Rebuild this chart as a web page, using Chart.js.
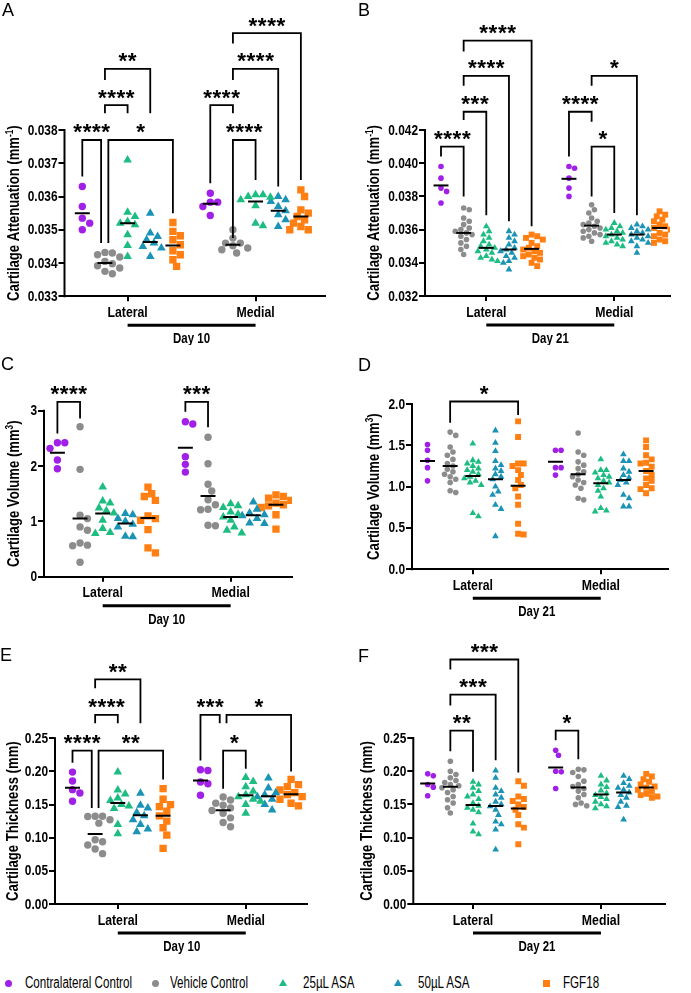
<!DOCTYPE html>
<html lang="en">
<head>
<meta charset="UTF-8" />
<meta name="viewport" content="width=device-width, initial-scale=1.0" />
<title>Cartilage attenuation, volume and thickness</title>
<script src="https://cdn.jsdelivr.net/npm/chart.js"></script>
<style>
  html, body { margin: 0; padding: 0; background: #fff; }
  #fig { position: relative; width: 691px; height: 993px; overflow: hidden; background: #fff; }
  #fig canvas { position: absolute; }
  .tag { position: absolute; font-size: 18px; line-height: 18px; color: #000; }
  .mark { position: absolute; }
  .keytext { position: absolute; font-size: 16px; line-height: 16px; color: #000; white-space: nowrap; transform-origin: 0 50%; }
</style>
</head>
<body>
<div id="fig"></div>
<script>
  const groups = ['Contralateral Control', 'Vehicle Control', '25µL ASA', '50µL ASA', 'FGF18'];
  const sides = ['Lateral', 'Medial'];
  const colors = ['#a020e8', '#8c8c8c', '#1dbd82', '#1a93b6', '#ff7f12'];
  const shapes = ['circle', 'circle', 'triangle', 'triangle', 'rect'];

  // A: attenuation, day 10 (one list per group, lines = group centre bars)
  const attenD10Lateral = [
    [0.0363, 0.0357, 0.03535, 0.0352, 0.0350],
    [0.03432, 0.0343, 0.03425, 0.03418, 0.03405, 0.03398, 0.03392, 0.03385, 0.03375, 0.03368],
    [0.0371, 0.03553, 0.0354, 0.03525, 0.0352, 0.03515, 0.03485, 0.03453, 0.0342],
    [0.0355, 0.0349, 0.0348, 0.0347, 0.0346, 0.0345, 0.03445, 0.0342],
    [0.03522, 0.03495, 0.03482, 0.0347, 0.03455, 0.03437, 0.03425, 0.0341, 0.0339]
  ];
  const attenD10Medial = [
    [0.0361, 0.03583, 0.03583, 0.0357, 0.03543],
    [0.035, 0.03475, 0.0346, 0.0346, 0.03452, 0.03445, 0.0344, 0.0343],
    [0.03605, 0.03605, 0.036, 0.03598, 0.0359, 0.03572, 0.0352, 0.03512],
    [0.036, 0.0359, 0.03585, 0.0357, 0.03557, 0.03545, 0.0353, 0.0351],
    [0.0362, 0.036, 0.0356, 0.0355, 0.0354, 0.0353, 0.0352, 0.0351, 0.035, 0.035]
  ];
  const attenD10Lines = [0.0355, 0.034, 0.0352, 0.03463, 0.03453, 0.03578, 0.03455, 0.03585, 0.03557, 0.0354];
  // [group1, group2, top, end1, end2, stars, shift1, shift2]
  const attenD10Brackets = [
    [0, 1, 0.0377, 0.0366, 0.0346, '****', 0, -0.17],
    [1, 4, 0.0377, 0.0346, 0.0355, '*', 0.15, 0],
    [1, 2, 0.03875, 0.0385, 0.0385, '****'],
    [1, 3, 0.03984, 0.0395, 0.0385, '**'],
    [5, 6, 0.03875, 0.0364, 0.0385, '****'],
    [6, 7, 0.0377, 0.03475, 0.0365, '****'],
    [6, 8, 0.03984, 0.0395, 0.0363, '****'],
    [6, 9, 0.04091, 0.0406, 0.0365, '****']
  ];

  // B: attenuation, day 21
  const attenD21Lateral = [
    [0.0398, 0.0391, 0.0385, 0.0383, 0.0376],
    [0.0373, 0.0372, 0.0367, 0.0365, 0.0363, 0.0361, 0.036, 0.0359, 0.0358, 0.0357, 0.0356, 0.0354, 0.0352, 0.035, 0.0348, 0.0345],
    [0.0362, 0.0359, 0.0357, 0.0355, 0.0353, 0.0351, 0.035, 0.0349, 0.0348, 0.0347, 0.0346, 0.0344, 0.0343, 0.0342, 0.0341],
    [0.0359, 0.0357, 0.0355, 0.0353, 0.0351, 0.0349, 0.0348, 0.0347, 0.0346, 0.0344, 0.0343, 0.0341, 0.034, 0.0336],
    [0.0357, 0.0356, 0.0355, 0.0354, 0.0352, 0.035, 0.0349, 0.0348, 0.0347, 0.0346, 0.0345, 0.0344, 0.0343, 0.0342, 0.034, 0.0338]
  ];
  const attenD21Medial = [
    [0.0398, 0.0397, 0.0391, 0.0385, 0.038],
    [0.0375, 0.0372, 0.037, 0.0367, 0.0365, 0.0364, 0.0363, 0.0362, 0.0361, 0.036, 0.0359, 0.0358, 0.0357, 0.0356, 0.0355, 0.0353],
    [0.0364, 0.0362, 0.0361, 0.036, 0.0359, 0.0358, 0.0357, 0.0356, 0.0355, 0.0354, 0.0353, 0.0352, 0.0351, 0.035],
    [0.0363, 0.0362, 0.0361, 0.036, 0.0359, 0.0358, 0.0357, 0.0356, 0.0355, 0.0354, 0.0353, 0.0352, 0.035, 0.0346],
    [0.0371, 0.0369, 0.0368, 0.0366, 0.0365, 0.0363, 0.0362, 0.0361, 0.036, 0.0358, 0.0357, 0.0356, 0.0354, 0.0353, 0.0352]
  ];
  const attenD21Lines = [0.03866, 0.0358, 0.0349, 0.0348, 0.03484, 0.03906, 0.03624, 0.0357, 0.0357, 0.0361];
  const attenD21Brackets = [
    [0, 1, 0.041, 0.0404, 0.038, '****'],
    [1, 2, 0.0431, 0.0426, 0.03686, '***'],
    [1, 3, 0.04526, 0.04466, 0.0365, '****'],
    [1, 4, 0.04739, 0.04673, 0.0362, '****'],
    [5, 6, 0.0431, 0.0404, 0.0425, '****'],
    [6, 8, 0.04526, 0.04466, 0.03686, '*'],
    [6, 7, 0.041, 0.038, 0.037, '*']
  ];

  // C: volume, day 10
  const volD10Lateral = [
    [2.42, 2.42, 2.32, 2.11, 1.95],
    [2.71, 1.94, 1.11, 1.05, 0.9, 0.84, 0.61, 0.57, 0.56, 0.26],
    [1.62, 1.37, 1.33, 1.24, 1.19, 1.15, 1.02, 0.87, 0.8, 0.78],
    [1.14, 1.12, 1.05, 1.0, 0.95, 0.9, 0.73, 0.72],
    [1.62, 1.5, 1.45, 1.38, 1.1, 1.05, 1.02, 0.85, 0.52, 0.43]
  ];
  const volD10Medial = [
    [2.8, 2.76, 2.17, 2.03, 1.89],
    [2.52, 2.04, 1.67, 1.55, 1.39, 1.3, 1.22, 1.21, 0.93, 0.92],
    [1.32, 1.28, 1.25, 1.17, 1.13, 1.08, 1.02, 0.9, 0.84, 0.79],
    [1.35, 1.22, 1.15, 1.12, 1.1, 1.05, 0.97, 0.96],
    [1.48, 1.45, 1.42, 1.38, 1.33, 1.3, 1.28, 1.25, 1.12, 0.86]
  ];
  const volD10Lines = [2.24, 1.05, 1.14, 0.96, 1.06, 2.33, 1.46, 1.08, 1.11, 1.3];
  const volD10Brackets = [
    [0, 1, 3.16, 2.59, 2.86, '****'],
    [5, 6, 3.16, 2.98, 2.7, '***']
  ];

  // D: volume, day 21
  const volD21Lateral = [
    [1.51, 1.44, 1.32, 1.23, 1.07],
    [1.66, 1.62, 1.48, 1.42, 1.38, 1.33, 1.28, 1.25, 1.21, 1.18, 1.15, 1.12, 1.09, 1.05, 0.95, 0.93],
    [1.52, 1.32, 1.3, 1.28, 1.25, 1.22, 1.2, 1.18, 1.15, 1.12, 1.1, 1.07, 1.05, 1.02, 0.68, 0.64],
    [1.68, 1.53, 1.43, 1.31, 1.26, 1.22, 1.19, 1.15, 1.12, 1.09, 1.0, 0.94, 0.9, 0.78, 0.73, 0.4],
    [1.79, 1.6, 1.28, 1.28, 1.25, 1.2, 1.14, 1.08, 1.02, 0.98, 0.88, 0.78, 0.55, 0.43, 0.42]
  ];
  const volD21Medial = [
    [1.44, 1.44, 1.23, 1.23, 1.14],
    [1.65, 1.42, 1.38, 1.3, 1.26, 1.22, 1.18, 1.15, 1.12, 1.08, 1.05, 1.02, 0.98, 0.86, 0.84],
    [1.33, 1.2, 1.2, 1.17, 1.14, 1.12, 1.1, 1.07, 1.05, 1.02, 0.98, 0.95, 0.88, 0.74, 0.71, 0.7],
    [1.39, 1.31, 1.31, 1.22, 1.18, 1.14, 1.11, 1.08, 1.05, 1.02, 0.9, 0.86, 0.76, 0.76],
    [1.56, 1.48, 1.38, 1.33, 1.29, 1.28, 1.24, 1.19, 1.14, 1.1, 1.07, 1.02, 0.98, 0.97, 0.92]
  ];
  const volD21Lines = [1.31, 1.25, 1.13, 1.09, 1.01, 1.3, 1.15, 1.04, 1.08, 1.19];
  const volD21Brackets = [
    [1, 4, 2.03, 1.774, 1.867, '*']
  ];

  // E: thickness, day 10
  const thickD10Lateral = [
    [0.199, 0.1855, 0.1725, 0.1675, 0.155],
    [0.1325, 0.1325, 0.132, 0.127, 0.122, 0.097, 0.094, 0.089, 0.083, 0.076],
    [0.199, 0.172, 0.166, 0.16, 0.156, 0.15, 0.148, 0.144, 0.12, 0.106],
    [0.167, 0.149, 0.145, 0.138, 0.133, 0.127, 0.12, 0.113, 0.109],
    [0.174, 0.158, 0.15, 0.147, 0.14, 0.133, 0.125, 0.115, 0.104, 0.084]
  ];
  const thickD10Medial = [
    [0.2025, 0.2015, 0.184, 0.1815, 0.164],
    [0.1615, 0.157, 0.152, 0.149, 0.145, 0.141, 0.137, 0.13, 0.123, 0.1165],
    [0.191, 0.185, 0.177, 0.17, 0.165, 0.162, 0.158, 0.155, 0.15, 0.137],
    [0.19, 0.175, 0.168, 0.165, 0.162, 0.158, 0.15, 0.142],
    [0.188, 0.18, 0.177, 0.172, 0.168, 0.165, 0.162, 0.158, 0.152, 0.148]
  ];
  const thickD10Lines = [0.1755, 0.1055, 0.1525, 0.134, 0.133, 0.1865, 0.1415, 0.164, 0.1625, 0.1655];
  const thickD10Brackets = [
    [0, 1, 0.2315, 0.213, 0.145, '****', 0, -0.15],
    [1, 4, 0.2315, 0.145, 0.188, '**', 0.15, 0],
    [1, 2, 0.2852, 0.2726, 0.2726, '****'],
    [1, 3, 0.339, 0.3255, 0.2726, '**'],
    [5, 6, 0.2852, 0.2165, 0.2726, '***', 0, -0.15],
    [6, 7, 0.2315, 0.174, 0.204, '*'],
    [6, 9, 0.2852, 0.2726, 0.2, '*', 0.15, 0]
  ];

  // F: thickness, day 21
  const thickD21Lateral = [
    [0.196, 0.193, 0.18, 0.176, 0.163],
    [0.215, 0.2, 0.195, 0.19, 0.186, 0.183, 0.18, 0.178, 0.175, 0.172, 0.168, 0.162, 0.157, 0.152, 0.145, 0.137],
    [0.184, 0.18, 0.175, 0.17, 0.165, 0.162, 0.158, 0.152, 0.148, 0.145, 0.142, 0.138, 0.121, 0.109, 0.105],
    [0.201, 0.19, 0.175, 0.17, 0.165, 0.16, 0.154, 0.15, 0.147, 0.142, 0.134, 0.124, 0.12, 0.112, 0.082],
    [0.185, 0.178, 0.162, 0.158, 0.155, 0.15, 0.146, 0.142, 0.134, 0.12, 0.115, 0.09]
  ];
  const thickD21Medial = [
    [0.2315, 0.224, 0.2, 0.199, 0.174],
    [0.203, 0.202, 0.198, 0.192, 0.185, 0.18, 0.177, 0.174, 0.17, 0.165, 0.16, 0.152, 0.15, 0.148],
    [0.193, 0.186, 0.18, 0.176, 0.171, 0.167, 0.164, 0.161, 0.158, 0.154, 0.15, 0.147, 0.144],
    [0.193, 0.188, 0.182, 0.178, 0.175, 0.172, 0.168, 0.164, 0.16, 0.154, 0.148, 0.146, 0.127],
    [0.196, 0.192, 0.188, 0.184, 0.18, 0.177, 0.175, 0.172, 0.169, 0.166, 0.164, 0.162, 0.16]
  ];
  const thickD21Lines = [0.1815, 0.1765, 0.149, 0.1475, 0.144, 0.2055, 0.1755, 0.165, 0.168, 0.1755];
  const thickD21Brackets = [
    [1, 2, 0.2611, 0.23, 0.199, '**'],
    [1, 3, 0.3154, 0.2988, 0.2165, '***'],
    [1, 4, 0.3682, 0.3531, 0.198, '***'],
    [5, 6, 0.2611, 0.2465, 0.218, '*']
  ];

  // ---- layout ----
  const GROUP_PX = 22.65;     // px between neighbouring groups
  const MEDIAL_START = 5.65;  // x of first medial group
  const BIG = [3.7, 3.7, 5.0, 5.0, 5.2];
  const SMALL = [2.8, 2.8, 3.9, 3.9, 4.2];
  const ATT = ['Cartilage Attenuation (mm', '-1', ')'];
  const VOL = ['Cartilage Volume (mm', '3', ')'];
  const THK = ['Cartilage Thickness (mm)', '', ''];

  const panels = [
    { tag: 'A', tagPos: [2, 1], box: [0, 0, 345, 345], area: { l: 64.5, r: 325, t: 20, b: 296.3 }, topTickPx: 130,
      yTicks: [0.033, 0.034, 0.035, 0.036, 0.037, 0.038], dec: 3, firstPx: 82.3, titleX: 13, title: ATT, day: 'Day 10',
      lateral: attenD10Lateral, medial: attenD10Medial, lines: attenD10Lines, brackets: attenD10Brackets, sizes: BIG, diam: 7.4 },
    { tag: 'B', tagPos: [358, 1], box: [345, 0, 346, 345], area: { l: 425, r: 670, t: 20, b: 296 }, topTickPx: 130,
      yTicks: [0.032, 0.034, 0.036, 0.038, 0.040, 0.042], dec: 3, firstPx: 441, titleX: 373, title: ATT, day: 'Day 21',
      lateral: attenD21Lateral, medial: attenD21Medial, lines: attenD21Lines, brackets: attenD21Brackets, sizes: SMALL, diam: 5.6 },
    { tag: 'C', tagPos: [1, 355], box: [0, 345, 345, 285], area: { l: 44, r: 292, t: 380, b: 576.7 }, topTickPx: 410.7,
      yTicks: [0, 1, 2, 3], dec: 0, firstPx: 57.4, titleX: 13, title: VOL, day: 'Day 10',
      lateral: volD10Lateral, medial: volD10Medial, lines: volD10Lines, brackets: volD10Brackets, sizes: BIG, diam: 7.4 },
    { tag: 'D', tagPos: [358, 356], box: [345, 345, 346, 285], area: { l: 412, r: 668, t: 380, b: 569.3 }, topTickPx: 404,
      yTicks: [0, 0.5, 1, 1.5, 2], dec: 1, firstPx: 427.5, titleX: 373, title: VOL, day: 'Day 21',
      lateral: volD21Lateral, medial: volD21Medial, lines: volD21Lines, brackets: volD21Brackets, sizes: SMALL, diam: 5.6 },
    { tag: 'E', tagPos: [0, 646], box: [0, 630, 345, 325], area: { l: 55, r: 306.7, t: 658, b: 904 }, topTickPx: 738.3,
      yTicks: [0, 0.05, 0.1, 0.15, 0.2, 0.25], dec: 2, firstPx: 72.5, titleX: 12, title: THK, day: 'Day 10',
      lateral: thickD10Lateral, medial: thickD10Medial, lines: thickD10Lines, brackets: thickD10Brackets, sizes: BIG, diam: 7.4 },
    { tag: 'F', tagPos: [358, 647], box: [345, 630, 346, 325], area: { l: 413.3, r: 665, t: 655, b: 904 }, topTickPx: 738,
      yTicks: [0, 0.05, 0.1, 0.15, 0.2, 0.25], dec: 2, firstPx: 427.7, titleX: 366, title: THK, day: 'Day 21',
      lateral: thickD21Lateral, medial: thickD21Medial, lines: thickD21Lines, brackets: thickD21Brackets, sizes: SMALL, diam: 5.6 }
  ];

  // narrow face if installed, otherwise squeeze the regular one sideways
  const probe = document.createElement('canvas').getContext('2d');
  function textWidth(font, s) { probe.font = font; return probe.measureText(s).width; }
  const hasNarrow = textWidth("bold 20px 'Liberation Sans Narrow', monospace", 'Cartilage 0.038') !==
                    textWidth('bold 20px monospace', 'Cartilage 0.038');
  const FAM = hasNarrow ? "'Liberation Sans Narrow', sans-serif" : "'Liberation Sans', Arial, sans-serif";
  const SQ = hasNarrow ? 1 : 0.82;
  Chart.defaults.font.family = FAM;

  function groupX(g) { return g < 5 ? g : g - 5 + MEDIAL_START; }

  // spread points sideways so markers don't sit on top of each other
  function swarm(vals, pxY, diam) {
    const order = vals.map((v, i) => i).sort((a, b) => vals[b] - vals[a]);
    const placed = [], out = new Array(vals.length).fill(0);
    const step = diam * 0.5;
    order.forEach(i => {
      const y = vals[i] * pxY;
      for (let k = 0; k < 30; k++) {
        const off = (k % 2 ? 1 : -1) * Math.ceil(k / 2) * step;
        if (placed.every(p => Math.hypot(p.x - off, p.y - y) >= diam)) {
          out[i] = off; placed.push({ x: off, y }); break;
        }
      }
    });
    return out;
  }

  function buildDatasets(p, pxY) {
    const ds = [];
    groups.forEach((name, t) => {
      const pts = [];
      [p.lateral, p.medial].forEach((side, s) => {
        const offs = swarm(side[t], pxY, p.diam);
        side[t].forEach((v, i) => pts.push({ x: groupX(s * 5 + t) + offs[i] / GROUP_PX, y: v }));
      });
      ds.push({ label: name, data: pts, pointStyle: shapes[t], pointRadius: p.sizes[t],
                backgroundColor: colors[t], borderWidth: 0, order: 2 });
    });
    p.lines.forEach((m, g) => {
      ds.push({ label: 'centre', data: [{ x: groupX(g) - 0.33, y: m }, { x: groupX(g) + 0.33, y: m }],
                showLine: true, borderColor: '#000', borderWidth: 2, pointRadius: 0, order: 1 });
    });
    return ds;
  }

  // text squeezed horizontally (stand-in for the condensed face of the original)
  function squeezed(ctx, s, x, y, align, baseline) {
    ctx.save();
    ctx.translate(x, y);
    ctx.scale(SQ, 1);
    ctx.textAlign = align;
    ctx.textBaseline = baseline;
    ctx.fillText(s, 0, 0);
    ctx.restore();
  }

  let starSize = null;
  function drawStars(ctx, s, cx, cy) {
    if (!starSize) {
      ctx.font = "bold 20px 'Liberation Sans', Arial, sans-serif";
      const m = ctx.measureText('*');
      starSize = 20 * 9 / (m.actualBoundingBoxAscent + m.actualBoundingBoxDescent);
    }
    ctx.font = `bold ${starSize}px 'Liberation Sans', Arial, sans-serif`;
    const m = ctx.measureText('*');
    const mid = (m.actualBoundingBoxAscent - m.actualBoundingBoxDescent) / 2;
    ctx.textAlign = 'center';
    ctx.textBaseline = 'alphabetic';
    for (let i = 0; i < s.length; i++) ctx.fillText('*', cx + (i - (s.length - 1) / 2) * 9.3, cy + mid);
  }

  function decoPlugin(p) {
    return {
      id: 'deco' + p.tag,
      afterDraw(chart) {
        const ctx = chart.ctx, xs = chart.scales.x, ys = chart.scales.y, a = chart.chartArea;
        ctx.save();
        ctx.strokeStyle = '#000';
        ctx.fillStyle = '#000';

        // y axis only as far as the last tick
        const yb = ys.getPixelForValue(p.yTicks[0]);
        const yt = ys.getPixelForValue(p.yTicks[p.yTicks.length - 1]);
        ctx.lineWidth = 2;
        ctx.beginPath(); ctx.moveTo(a.left, yb + 1); ctx.lineTo(a.left, yt - 1); ctx.stroke();

        // tick labels
        ctx.font = `bold 14.5px ${FAM}`;
        p.yTicks.forEach(v => squeezed(ctx, v.toFixed(p.dec), a.left - 7, ys.getPixelForValue(v) + 0.5, 'right', 'middle'));
        ctx.font = `bold 15px ${FAM}`;
        sides.forEach((s, i) => squeezed(ctx, s, xs.getPixelForValue(groupX(2 + 5 * i)), a.bottom + 16.5, 'center', 'middle'));

        // significance brackets
        ctx.lineWidth = 1.8;
        ctx.lineJoin = 'miter';
        p.brackets.forEach(b => {
          const x1 = xs.getPixelForValue(groupX(b[0]) + (b[6] || 0));
          const x2 = xs.getPixelForValue(groupX(b[1]) + (b[7] || 0));
          const top = ys.getPixelForValue(b[2]);
          ctx.beginPath();
          ctx.moveTo(x1, ys.getPixelForValue(b[3]));
          ctx.lineTo(x1, top); ctx.lineTo(x2, top);
          ctx.lineTo(x2, ys.getPixelForValue(b[4]));
          ctx.stroke();
          drawStars(ctx, b[5], (x1 + x2) / 2, top - 11);
        });

        // day underline + label
        const xl = xs.getPixelForValue(2), xm = xs.getPixelForValue(2 + MEDIAL_START);
        ctx.lineWidth = 3;
        ctx.beginPath(); ctx.moveTo(xl, a.bottom + 29); ctx.lineTo(xm, a.bottom + 29); ctx.stroke();
        ctx.font = `bold 14px ${FAM}`;
        squeezed(ctx, p.day, (xl + xm) / 2, a.bottom + 43, 'center', 'middle');

        // y title with superscript
        const big = `bold 16px ${FAM}`, small = `bold 10px ${FAM}`;
        ctx.font = big; const w1 = ctx.measureText(p.title[0]).width, w3 = ctx.measureText(p.title[2]).width;
        ctx.font = small; const w2 = ctx.measureText(p.title[1]).width;
        ctx.translate(p.titleX - p.box[0], (yb + yt) / 2);
        ctx.rotate(-Math.PI / 2);
        ctx.scale(SQ, 1);
        ctx.textAlign = 'left';
        ctx.textBaseline = 'alphabetic';
        const base = 5.7;
        let x = -(w1 + w2 + w3) / 2;
        ctx.font = big; ctx.fillText(p.title[0], x, base); x += w1;
        ctx.font = small; ctx.fillText(p.title[1], x, base - 6); x += w2;
        ctx.font = big; ctx.fillText(p.title[2], x, base);
        ctx.restore();
      }
    };
  }

  const fig = document.getElementById('fig');

  panels.forEach(p => {
    const [cl, ct, cw, ch] = p.box;
    const cv = document.createElement('canvas');
    cv.width = cw; cv.height = ch;
    cv.style.left = cl + 'px'; cv.style.top = ct + 'px';
    fig.appendChild(cv);

    const tag = document.createElement('div');
    tag.className = 'tag';
    tag.style.fontFamily = "'Liberation Sans', Arial, sans-serif";
    tag.style.left = p.tagPos[0] + 'px'; tag.style.top = p.tagPos[1] + 'px';
    tag.textContent = p.tag;
    fig.appendChild(tag);

    const y0 = p.yTicks[0], yTop = p.yTicks[p.yTicks.length - 1];
    const pxY = (p.area.b - p.topTickPx) / (yTop - y0);
    const yMax = y0 + (p.area.b - p.area.t) / pxY;
    const xMin = (p.area.l - p.firstPx) / GROUP_PX, xMax = (p.area.r - p.firstPx) / GROUP_PX;

    new Chart(cv, {
      type: 'scatter',
      data: { datasets: buildDatasets(p, pxY) },
      options: {
        responsive: false,
        animation: false,
        events: [],
        layout: { padding: { top: p.area.t - ct, right: cw - (p.area.r - cl), left: 0, bottom: 0 } },
        plugins: { legend: { display: false }, tooltip: { enabled: false } },
        scales: {
          x: {
            type: 'linear', min: xMin, max: xMax,
            afterBuildTicks: s => { s.ticks = [{ value: 2 }, { value: 2 + MEDIAL_START }]; },
            afterFit: s => { s.height = ct + ch - p.area.b; },
            ticks: { display: false },
            grid: { drawOnChartArea: false, tickLength: 5, color: '#000', lineWidth: 2 },
            border: { display: true, color: '#000', width: 2 }
          },
          y: {
            type: 'linear', min: y0, max: yMax,
            afterBuildTicks: s => { s.ticks = p.yTicks.map(v => ({ value: v })); },
            afterFit: s => { s.width = p.area.l - cl; },
            ticks: { display: false },
            grid: { drawOnChartArea: false, tickLength: 6, color: '#000', lineWidth: 2 },
            border: { display: false }
          }
        }
      },
      plugins: [decoPlugin(p)]
    });
  });

  // legend row
  const keyMarkX = [8, 155, 283, 398, 546];
  const keyTextX = [25, 170, 303, 418, 563];
  const keyY = 983;
  const keyScale = 107 / textWidth(`16px ${FAM}`, groups[0]);
  groups.forEach((name, t) => {
    const mk = document.createElement('div');
    mk.className = 'mark';
    mk.style.background = colors[t];
    if (shapes[t] === 'circle') {
      Object.assign(mk.style, { width: '7px', height: '7px', borderRadius: '50%', left: (keyMarkX[t] - 3.5) + 'px', top: (keyY - 3.5) + 'px' });
    } else if (shapes[t] === 'triangle') {
      Object.assign(mk.style, { width: '8px', height: '7px', clipPath: 'polygon(50% 0, 100% 100%, 0 100%)', left: (keyMarkX[t] - 4) + 'px', top: (keyY - 4) + 'px' });
    } else {
      Object.assign(mk.style, { width: '7px', height: '7px', left: (keyMarkX[t] - 3.5) + 'px', top: (keyY - 3.5) + 'px' });
    }
    fig.appendChild(mk);
    const lb = document.createElement('div');
    lb.className = 'keytext';
    lb.style.fontFamily = FAM;
    lb.style.left = keyTextX[t] + 'px';
    lb.style.top = (keyY - 8) + 'px';
    lb.style.transform = `scaleX(${keyScale})`;
    lb.textContent = name;
    fig.appendChild(lb);
  });
</script>
</body>
</html>
